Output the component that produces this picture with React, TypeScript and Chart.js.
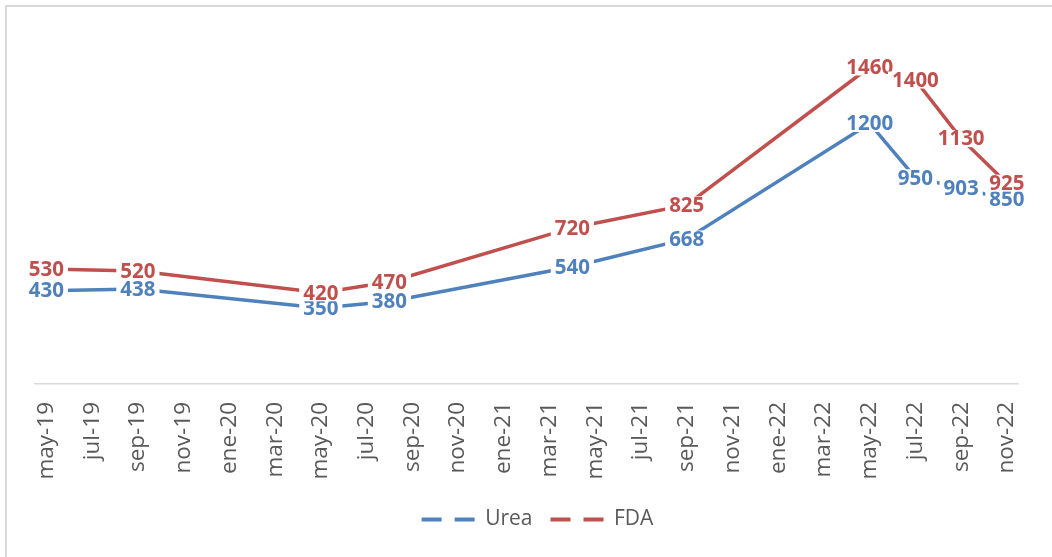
import React, { useEffect, useRef } from "react";
import { Chart, registerables } from "chart.js";

Chart.register(...registerables);

// Monthly category axis (labels shown every two months)
const months = [
  "may-19", "jun-19", "jul-19", "ago-19", "sep-19", "oct-19", "nov-19", "dic-19",
  "ene-20", "feb-20", "mar-20", "abr-20", "may-20", "jun-20", "jul-20", "ago-20",
  "sep-20", "oct-20", "nov-20", "dic-20",
  "ene-21", "feb-21", "mar-21", "abr-21", "may-21", "jun-21", "jul-21", "ago-21",
  "sep-21", "oct-21", "nov-21", "dic-21",
  "ene-22", "feb-22", "mar-22", "abr-22", "may-22", "jun-22", "jul-22", "ago-22",
  "sep-22", "oct-22", "nov-22",
];

// Observation dates
const pointMonths = [
  "may-19", "sep-19", "may-20", "ago-20", "abr-21", "sep-21", "may-22", "jul-22", "sep-22", "nov-22",
];

const ureaValues = [430, 438, 350, 380, 540, 668, 1200, 950, 903, 850];
const fdaValues = [530, 520, 420, 470, 720, 825, 1460, 1400, 1130, 925];

const seriesNames = ["Urea", "FDA"];
const seriesColors = ["#4F81BD", "#C0504D"];

const FONT = '"Open Sans", "Noto Sans", sans-serif';

const valueLabels = {
  id: "valueLabels",
  afterDatasetsDraw(chart: any) {
    const ctx = chart.ctx;
    ctx.save();
    ctx.font = `bold 20.5px ${FONT}`;
    ctx.textAlign = "center";
    ctx.textBaseline = "middle";
    chart.data.datasets.forEach((ds: any, i: number) => {
      const meta = chart.getDatasetMeta(i);
      meta.data.forEach((pt: any, j: number) => {
        const text = String(ds.data[j].y);
        const w = ctx.measureText(text).width;
        ctx.fillStyle = "#ffffff";
        ctx.fillRect(pt.x - w / 2 - 4, pt.y - 8.5, w + 8, 17);
        ctx.fillStyle = ds.borderColor;
        ctx.fillText(text, pt.x, pt.y + 1);
      });
    });
    ctx.restore();
  },
};

export default function App() {
  const canvasRef = useRef<HTMLCanvasElement | null>(null);

  useEffect(() => {
    const canvas = canvasRef.current;
    if (!canvas) return;
    const makeData = (vals: number[]) => pointMonths.map((m, i) => ({ x: m, y: vals[i] }));
    const chart = new Chart(canvas, {
      type: "line",
      data: {
        labels: months,
        datasets: [
          {
            label: seriesNames[0],
            data: makeData(ureaValues),
            borderColor: seriesColors[0],
            backgroundColor: seriesColors[0],
            borderWidth: 3.5,
            pointRadius: 0,
            tension: 0,
          },
          {
            label: seriesNames[1],
            data: makeData(fdaValues),
            borderColor: seriesColors[1],
            backgroundColor: seriesColors[1],
            borderWidth: 3.5,
            pointRadius: 0,
            tension: 0,
          },
        ],
      } as any,
      options: {
        responsive: false,
        animation: false,
        devicePixelRatio: 1,
        layout: { padding: { left: 35, right: 12, top: 36.6, bottom: 17 } },
        plugins: {
          tooltip: { enabled: false },
          legend: {
            position: "bottom",
            labels: {
              usePointStyle: true,
              pointStyleWidth: 53,
              boxHeight: 10,
              padding: 18,
              color: "#595959",
              font: { family: FONT, size: 21 },
              generateLabels: (ch: any) =>
                ch.data.datasets.map((ds: any, i: number) => ({
                  text: ds.label,
                  fillStyle: ds.borderColor,
                  strokeStyle: ds.borderColor,
                  lineWidth: 4,
                  lineDash: [20, 13],
                  pointStyle: "line",
                  fontColor: "#595959",
                  hidden: false,
                  datasetIndex: i,
                })),
            },
          },
        },
        scales: {
          x: {
            type: "category",
            offset: true,
            grid: { display: false, drawTicks: false },
            border: { display: true, color: "#D9D9D9", width: 1.5 },
            ticks: {
              autoSkip: false,
              maxRotation: 90,
              minRotation: 90,
              padding: 18,
              color: "#595959",
              font: { family: FONT, size: 22.5 },
              callback: (_v: any, index: number) => (index % 2 === 0 ? months[index] : ""),
            },
            afterFit: (scale: any) => {
              scale.height = 107;
            },
          },
          y: {
            display: false,
            min: 0,
            max: 1600,
          },
        },
      } as any,
      plugins: [valueLabels],
    });
    return () => chart.destroy();
  }, []);

  return (
    <div
      style={{
        position: "absolute",
        left: 0,
        top: 0,
        width: 1052,
        height: 557,
        overflow: "hidden",
        background: "#ffffff",
      }}
    >
      <canvas ref={canvasRef} width={1052} height={557} style={{ width: 1052, height: 557, display: "block" }} />
      <div
        style={{
          position: "absolute",
          left: 5,
          top: 5,
          width: 1100,
          height: 600,
          border: "2px solid #D9D9D9",
          pointerEvents: "none",
        }}
      />
    </div>
  );
}
